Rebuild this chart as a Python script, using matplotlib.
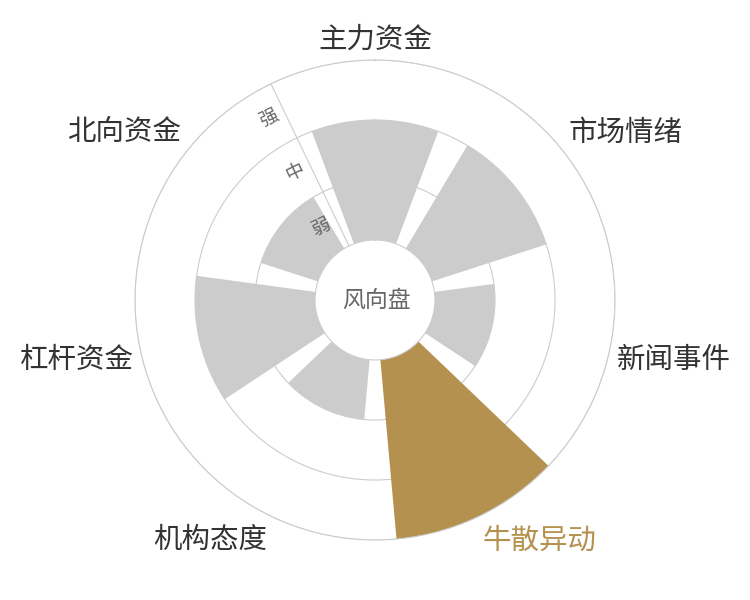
import numpy as np
import matplotlib
matplotlib.use("Agg")
import matplotlib.pyplot as plt
from matplotlib.transforms import offset_copy

plt.rcParams['font.family'] = ['Noto Sans CJK SC', 'DejaVu Sans']

# 风向盘 data: one bar per signal, level 1..3 (弱/中/强)
categories = ['主力资金', '市场情绪', '新闻事件', '牛散异动', '机构态度', '杠杆资金', '北向资金']
values = [2, 2, 1, 3, 1, 2, 1]
levels = ['弱', '中', '强']
highlight = '牛散异动'

gray = '#cccccc'
gold = '#b59150'
grid_c = '#cccccc'

n = len(categories)
step = 2 * np.pi / n
theta = np.arange(n) * step
colors = [gold if c == highlight else gray for c in categories]

fig = plt.figure(figsize=(7.5, 6), dpi=100)
ax = fig.add_axes([135 / 750, 60 / 600, 480 / 750, 480 / 600], projection='polar')
ax.set_theta_zero_location('N')
ax.set_theta_direction(-1)
ax.set_ylim(0, len(levels))
ax.set_rorigin(-1)

ax.bar(theta, values, width=step * 0.8, bottom=0, color=colors,
       edgecolor='none', zorder=2)

# grid: circles only, plus the radius axis line between first and last sector
ax.set_axisbelow(True)
ax.set_xticks([])
ax.set_yticks(np.arange(1, len(levels) + 1))
ax.set_yticklabels([])
ax.yaxis.grid(True, color=grid_c, lw=0.8)
ax.xaxis.grid(False)
for s in ['polar', 'inner']:
    ax.spines[s].set_color(grid_c)
    ax.spines[s].set_linewidth(0.8)

axis_theta = -step / 2
ax.plot([axis_theta, axis_theta], [0, len(levels)], color=grid_c, lw=0.8, zorder=1)

# level labels next to the radius axis, turned across the axis line
lab_tr = offset_copy(ax.transData, fig=fig, x=-15, y=-7.5, units='dots')
rot = np.degrees(step / 2)
for i, lv in enumerate(levels):
    ax.text(axis_theta, i + 0.5, lv, transform=lab_tr, rotation=rot,
            rotation_mode='anchor', ha='center', va='center',
            fontsize=13.5, color='#666666')

# category labels around the outside
r_lab = len(levels) + 0.13
for t, c in zip(theta, categories):
    dx, dy = np.sin(t), np.cos(t)
    ha = 'center' if abs(dx) < 0.3 else ('left' if dx > 0 else 'right')
    va = 'center' if abs(dy) < 0.3 else ('bottom' if dy > 0 else 'top')
    shift = -5 if va == 'center' else -2
    tr = offset_copy(ax.transData, fig=fig, x=0, y=shift, units='dots')
    ax.text(t, r_lab, c, transform=tr, ha=ha, va=va, fontsize=20.5,
            color=gold if c == highlight else '#333333')

# centre title
fig.text(376 / 750, 1 - 300 / 600, '风向盘', ha='center', va='center',
         fontsize=16.5, color='#666666')

fig.savefig('out.png', dpi=100, facecolor='white')
